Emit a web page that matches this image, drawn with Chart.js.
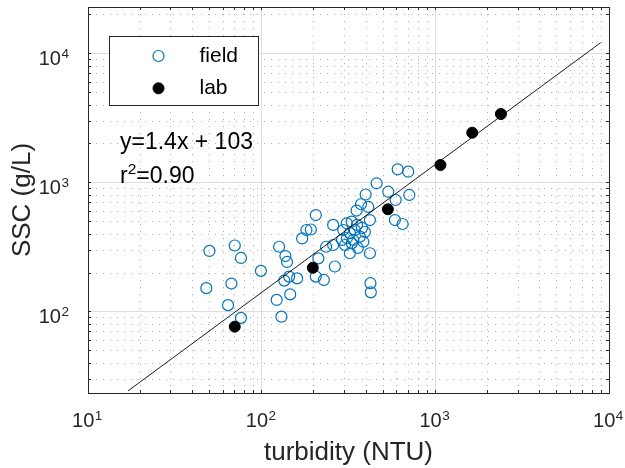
<!DOCTYPE html>
<html>
<head>
<meta charset="utf-8">
<script src="https://cdn.jsdelivr.net/npm/chart.js"></script>
<style>
  html, body { margin: 0; padding: 0; background: #fff; }
  #wrap { width: 625px; height: 468px; }
</style>
</head>
<body>
<div id="wrap"><canvas id="sscChart" width="625" height="468"></canvas></div>
<script>
// field samples, turbidity (NTU) and SSC (g/L)
const fieldTurbidity = [50, 70, 76, 48, 67, 64, 76, 99, 126, 137, 140, 122, 130, 146, 135, 144, 160,
  171, 181, 192, 205, 212, 235, 258, 258, 264, 205, 228,
  295, 322, 344, 368, 337, 385, 330, 322, 420, 309, 330, 352, 373, 411, 420, 397, 459, 536, 591,
  708, 607, 698, 585, 648, 423, 425, 302, 358, 290, 354, 378, 310, 393];
const fieldSSC = [297, 327, 262, 153, 166, 113, 90, 208, 320, 271, 244, 124, 92, 137, 175, 188, 182,
  371, 431, 435, 563, 260, 320, 472, 330, 225, 188, 177,
  431, 407, 431, 383, 361, 350, 340, 285, 285, 486, 500, 610, 682, 650, 515, 812, 991, 853, 736,
  805, 1272, 1219, 515, 480, 167, 142, 330, 313, 361, 472, 447, 374, 416];

// lab samples
const labTurbidity = [70, 197, 533, 1070, 1631, 2386];
const labSSC = [77, 220, 624, 1373, 2442, 3408];

// fitted line, end points
const fitTurbidity = [17, 8950];
const fitSSC = [24.5, 12150];

const xLimits = [10, 10000];
const yLimits = [23.6, 22950];
const xMajorTicks = [10, 100, 1000, 10000];
const yMajorTicks = [100, 1000, 10000];

const fitEquation = 'y=1.4x + 103';
const fitR2 = ['r', '2', '=0.90'];   // base, superscript, rest

const FONT = '"Liberation Sans", Arial, Helvetica, sans-serif';
const AXIS_GREY = '#262626';

function isPower(v) {
  const l = Math.log10(v);
  return Math.abs(l - Math.round(l)) < 1e-9;
}

// 1..9 x 10^n positions for grid lines and tick marks
function logTickValues(min, max) {
  const out = [];
  for (let e = Math.floor(Math.log10(min)); e <= Math.ceil(Math.log10(max)); e++) {
    for (let m = 1; m <= 9; m++) {
      const v = m * Math.pow(10, e);
      if (v >= min * 0.9999 && v <= max * 1.0001) out.push(v);
    }
  }
  return out;
}

const gridColor = ctx => (ctx.tick && isPower(ctx.tick.value)) ? '#dedede' : '#b4b4b4';
const gridDash = ctx => (ctx.tick && !isPower(ctx.tick.value)) ? [1.2, 5.8] : [];

function noPadding(s) {
  s.paddingTop = 0; s.paddingBottom = 0; s.paddingLeft = 0; s.paddingRight = 0;
}

function logAxis(position, limits, size, opts) {
  const horizontal = position === 'top' || position === 'bottom';
  return Object.assign({
    type: 'logarithmic',
    position,
    min: limits[0],
    max: limits[1],
    bounds: 'data',
    afterBuildTicks: s => { s.ticks = logTickValues(limits[0], limits[1]).map(v => ({ value: v })); },
    afterFit: s => {
      if (horizontal) s.height = size; else s.width = size;
      noPadding(s);
    },
    ticks: { display: false, autoSkip: false },
    grid: {
      color: gridColor, lineWidth: 1, drawOnChartArea: position === 'bottom' || position === 'left',
      drawTicks: true, tickLength: -3, tickColor: AXIS_GREY, tickWidth: 1, tickBorderDash: []
    },
    border: { display: true, color: AXIS_GREY, width: 1, dash: gridDash },
  }, opts);
}

// "10" with a raised exponent, MATLAB style
function drawPower(ctx, value, x, baseline, align) {
  const exp = String(Math.round(Math.log10(value)));
  ctx.font = '20px ' + FONT;
  const bw = ctx.measureText('10').width;
  ctx.font = '13.5px ' + FONT;
  const ew = ctx.measureText(exp).width;
  const start = align === 'right' ? x - bw - ew : x - (bw + ew) / 2 - 1;
  ctx.fillStyle = AXIS_GREY;
  ctx.textAlign = 'left';
  ctx.textBaseline = 'alphabetic';
  ctx.font = '20px ' + FONT;
  ctx.fillText('10', start, baseline);
  ctx.font = '13.5px ' + FONT;
  ctx.fillText(exp, start + bw + 0.5, baseline - 7);
}

// tick labels, legend box and fit text
const annotations = {
  id: 'annotations',
  afterDraw(chart) {
    const { ctx, chartArea, scales } = chart;
    ctx.save();

    xMajorTicks.forEach(v => drawPower(ctx, v, scales.x.getPixelForValue(v), chartArea.bottom + 34, 'center'));
    yMajorTicks.forEach(v => drawPower(ctx, v, chartArea.left - 19.5, scales.y.getPixelForValue(v) + 11.5, 'right'));

    const left = chartArea.left + 21.5;
    const top = chartArea.top + 29.5;
    ctx.fillStyle = '#fff';
    ctx.strokeStyle = AXIS_GREY;
    ctx.lineWidth = 1;
    ctx.fillRect(left, top, 149, 69);
    ctx.strokeRect(left, top, 149, 69);

    const rows = [chart.data.datasets[1], chart.data.datasets[2]];
    rows.forEach((ds, i) => {
      const y = top + 19.5 + i * 32.3;
      ctx.beginPath();
      ctx.arc(left + 49, y, ds.pointRadius, 0, Math.PI * 2);
      if (ds.backgroundColor !== 'rgba(0,0,0,0)') {
        ctx.fillStyle = ds.backgroundColor;
        ctx.fill();
      }
      ctx.lineWidth = ds.borderWidth;
      ctx.strokeStyle = ds.borderColor;
      ctx.stroke();
      ctx.fillStyle = '#000';
      ctx.font = '21px ' + FONT;
      ctx.textBaseline = 'middle';
      ctx.textAlign = 'left';
      ctx.fillText(ds.label, left + 90, y);
    });

    const tx = chartArea.left + 32;
    ctx.font = '23px ' + FONT;
    ctx.textBaseline = 'alphabetic';
    ctx.fillStyle = '#000';
    ctx.fillText(fitEquation, tx, chartArea.top + 141.5);
    const rb = chartArea.top + 175.5;
    ctx.fillText(fitR2[0], tx, rb);
    let w = ctx.measureText(fitR2[0]).width;
    ctx.font = '15.5px ' + FONT;
    ctx.fillText(fitR2[1], tx + w, rb - 8.5);
    w += ctx.measureText(fitR2[1]).width;
    ctx.font = '23px ' + FONT;
    ctx.fillText(fitR2[2], tx + w, rb);
    ctx.restore();
  }
};

const ctx = document.getElementById('sscChart').getContext('2d');

new Chart(ctx, {
  type: 'scatter',
  data: {
    datasets: [
      {
        label: 'fit',
        type: 'line',
        showLine: true,
        data: fitTurbidity.map((x, i) => ({ x, y: fitSSC[i] })),
        borderColor: '#000',
        borderWidth: 0.9,
        pointRadius: 0,
        fill: false,
        order: 0
      },
      {
        label: 'field',
        data: fieldTurbidity.map((x, i) => ({ x, y: fieldSSC[i] })),
        pointStyle: 'circle',
        pointRadius: 5.5,
        borderWidth: 1.2,
        borderColor: '#0072BD',
        backgroundColor: 'rgba(0,0,0,0)',
        order: 2
      },
      {
        label: 'lab',
        data: labTurbidity.map((x, i) => ({ x, y: labSSC[i] })),
        pointStyle: 'circle',
        pointRadius: 5.5,
        borderWidth: 1,
        borderColor: '#000',
        backgroundColor: '#000',
        order: 1
      }
    ]
  },
  options: {
    responsive: false,
    animation: false,
    devicePixelRatio: 1,
    layout: { padding: { top: 7, right: 16, left: 0, bottom: 0 } },
    plugins: { legend: { display: false }, tooltip: { enabled: false } },
    scales: {
      x: logAxis('bottom', xLimits, 75, {
        title: { display: true, text: 'turbidity (NTU)', color: AXIS_GREY,
          font: { family: FONT, size: 26, lineHeight: 1.2 }, padding: { top: 0, bottom: 0 } }
      }),
      y: logAxis('left', yLimits, 88, {
        title: { display: true, text: 'SSC (g/L)', color: AXIS_GREY,
          font: { family: FONT, size: 26, lineHeight: 1.2 }, padding: { top: 7, bottom: 0 } }
      }),
      x2: logAxis('top', xLimits, 0, {}),
      y2: logAxis('right', yLimits, 0, {})
    }
  },
  plugins: [annotations]
});
</script>
</body>
</html>
